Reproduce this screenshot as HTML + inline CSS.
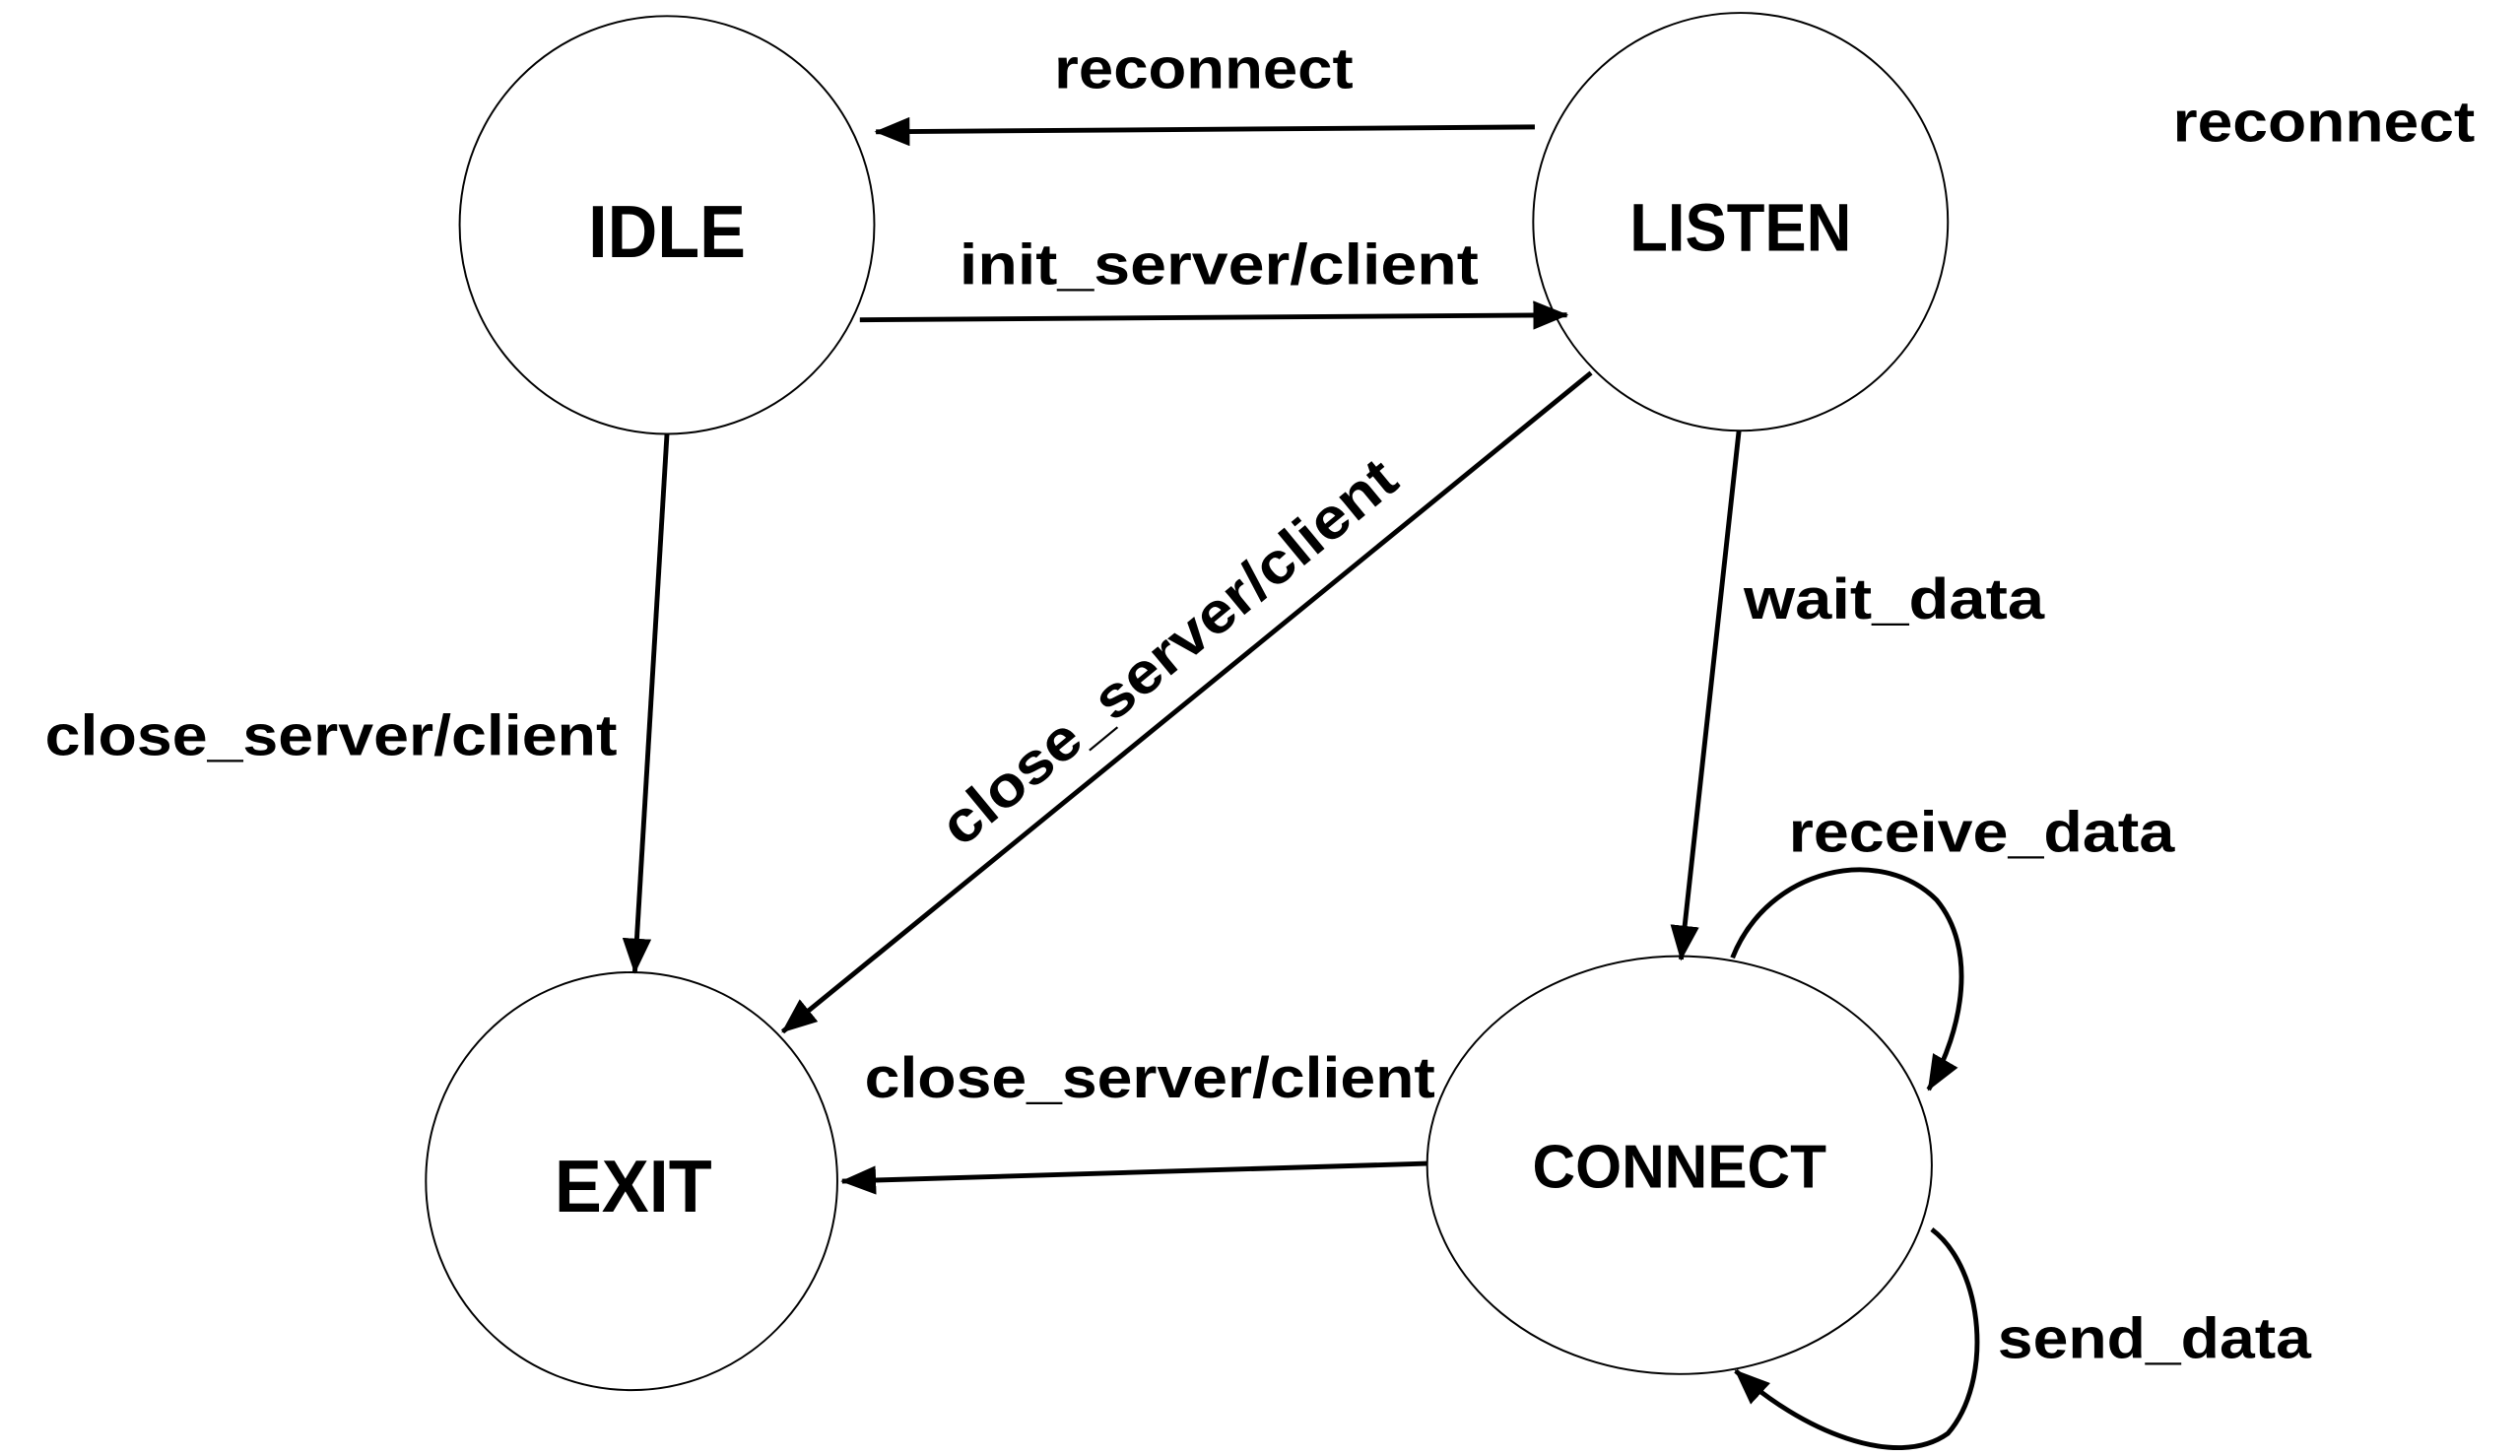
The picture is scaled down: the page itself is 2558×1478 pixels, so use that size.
<!DOCTYPE html>
<html><head><meta charset="utf-8"><style>
html,body{margin:0;padding:0;background:#fff}
svg{display:block}
text{font-family:"Liberation Sans",sans-serif;font-weight:bold;fill:#000}
</style></head><body>
<svg width="2558" height="1478" viewBox="0 0 1568 906" preserveAspectRatio="none" xmlns="http://www.w3.org/2000/svg">
<defs>
<marker id="b" markerWidth="22" markerHeight="18" refX="21" refY="9" orient="auto" markerUnits="userSpaceOnUse">
<path d="M0,0 L22,9 L0,18 z" fill="#000"/>
</marker>
</defs>
<g fill="none" stroke="#000" stroke-width="1.2">
<ellipse cx="415" cy="140" rx="129" ry="130"/>
<ellipse cx="1083" cy="138" rx="129" ry="130"/>
<ellipse cx="393" cy="735" rx="128" ry="130"/>
<ellipse cx="1045" cy="725" rx="157" ry="130"/>
</g>
<g fill="none" stroke="#000" stroke-width="3">
<line x1="955" y1="79" x2="545" y2="82" marker-end="url(#b)"/>
<line x1="535" y1="199" x2="975" y2="196" marker-end="url(#b)"/>
<line x1="990" y1="232" x2="487" y2="642" marker-end="url(#b)"/>
<line x1="415" y1="270" x2="395" y2="605" marker-end="url(#b)"/>
<line x1="1082" y1="268" x2="1046" y2="597" marker-end="url(#b)"/>
<line x1="888" y1="724" x2="524" y2="735" marker-end="url(#b)"/>
<path d="M1078,596 C1100,540 1170,525 1205,560 C1230,590 1222,640 1200,678" marker-end="url(#b)"/>
<path d="M1202,765 C1235,790 1240,860 1212,892 C1180,915 1120,890 1080,853" marker-end="url(#b)"/>
</g>
<text x="656" y="55" font-size="36" textLength="186" lengthAdjust="spacingAndGlyphs">reconnect</text>
<text x="1352" y="88" font-size="36" textLength="188" lengthAdjust="spacingAndGlyphs">reconnect</text>
<text x="597" y="177" font-size="36" textLength="323" lengthAdjust="spacingAndGlyphs">init_server/client</text>
<text x="28" y="470" font-size="36" textLength="356" lengthAdjust="spacingAndGlyphs">close_server/client</text>
<text x="1085" y="385" font-size="36" textLength="187" lengthAdjust="spacingAndGlyphs">wait_data</text>
<text x="538" y="683" font-size="36" textLength="355" lengthAdjust="spacingAndGlyphs">close_server/client</text>
<text x="1113" y="530" font-size="36" textLength="240" lengthAdjust="spacingAndGlyphs">receive_data</text>
<text x="1243" y="845" font-size="36" textLength="195" lengthAdjust="spacingAndGlyphs">send_data</text>
<text transform="translate(735,415) rotate(-39.5)" text-anchor="middle" font-size="36" textLength="355" lengthAdjust="spacingAndGlyphs">close_server/client</text>
<text x="415" y="160" font-size="46" text-anchor="middle" textLength="98" lengthAdjust="spacingAndGlyphs">IDLE</text>
<text x="1083" y="156" font-size="42" text-anchor="middle" textLength="138" lengthAdjust="spacingAndGlyphs">LISTEN</text>
<text x="394" y="754" font-size="46" text-anchor="middle" textLength="98" lengthAdjust="spacingAndGlyphs">EXIT</text>
<text x="1045" y="739" font-size="38" text-anchor="middle" textLength="183" lengthAdjust="spacingAndGlyphs">CONNECT</text>
</svg>
</body></html>
